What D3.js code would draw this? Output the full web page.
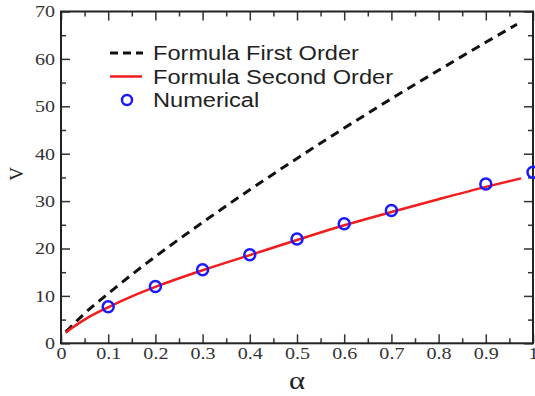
<html>
<head>
  <script src="https://cdn.jsdelivr.net/npm/d3@7"></script>
  <style>
    body { margin: 0; background: #fff; }
  </style>
</head>
<body>
  <script>
    // Data
    const alphaFirst = [0.01, 0.02, 0.05, 0.1, 0.15, 0.2, 0.3, 0.4, 0.5, 0.6, 0.7, 0.8, 0.9, 0.966];
    const vFirst = [2.4, 3.4, 6.3, 10.5, 14.5, 18.3, 25.5, 32.4, 39.0, 45.4, 51.6, 57.6, 63.5, 67.3];

    const alphaSecond = [0.01, 0.02, 0.05, 0.1, 0.15, 0.2, 0.3, 0.4, 0.5, 0.6, 0.7, 0.8, 0.9, 0.975];
    const vSecond = [2.2, 3.0, 5.0, 7.6, 9.9, 11.9, 15.4, 18.6, 21.8, 24.9, 27.7, 30.4, 33.0, 34.8];

    const alphaNum = [0.1, 0.2, 0.3, 0.4, 0.5, 0.6, 0.7, 0.9, 1.0];
    const vNum = [7.7, 12.0, 15.5, 18.7, 22.0, 25.2, 28.0, 33.6, 36.1];

    const xTicks = [0, 0.1, 0.2, 0.3, 0.4, 0.5, 0.6, 0.7, 0.8, 0.9, 1];
    const yTicks = [0, 10, 20, 30, 40, 50, 60, 70];
    const legendLabels = ["Formula First Order", "Formula Second Order", "Numerical"];

    const w = 535, h = 396;
    const padL = 61, padR = 533, padT = 11.5, padB = 343.3;
    const stretch = 1.18; // picture is a bit wide

    const x = d3.scaleLinear().domain([0, 1]).range([padL, padR]);
    const y = d3.scaleLinear().domain([0, 70]).range([padB, padT]);

    const svg = d3.select("body").append("svg")
      .attr("width", w).attr("height", h);

    const xMinor = d3.range(0, 1.0001, 0.05).filter(d => Math.abs(d * 10 - Math.round(d * 10)) > 1e-6);
    const yMinor = d3.range(5, 70, 10);

    function addAxis(gen, tr, labels) {
      const g = svg.append("g").attr("transform", tr).call(gen);
      g.select(".domain").remove();
      g.selectAll("line").attr("stroke", "#333").attr("stroke-width", 1.5);
      g.selectAll("text").attr("fill", "#333")
        .style("font-family", "'Liberation Serif', serif").style("font-size", "17px");
      if (!labels) g.selectAll("text").remove();
      return g;
    }

    // bottom + top
    addAxis(d3.axisBottom(x).tickValues(xTicks).tickSize(-9).tickPadding(4)
      .tickFormat(d => d === 0 ? "0" : d === 1 ? "1" : d3.format(".1f")(d)), `translate(0,${padB})`, true);
    addAxis(d3.axisBottom(x).tickValues(xMinor).tickSize(-5), `translate(0,${padB})`, false);
    addAxis(d3.axisTop(x).tickValues(xTicks).tickSize(-9), `translate(0,${padT})`, false);
    addAxis(d3.axisTop(x).tickValues(xMinor).tickSize(-5), `translate(0,${padT})`, false);
    // left + right
    addAxis(d3.axisLeft(y).tickValues(yTicks).tickSize(-9).tickPadding(6), `translate(${padL},0)`, true);
    addAxis(d3.axisLeft(y).tickValues(yMinor).tickSize(-5), `translate(${padL},0)`, false);
    addAxis(d3.axisRight(y).tickValues(yTicks).tickSize(-9), `translate(${padR},0)`, false);
    addAxis(d3.axisRight(y).tickValues(yMinor).tickSize(-5), `translate(${padR},0)`, false);

    // frame
    svg.append("rect")
      .attr("x", padL).attr("y", padT)
      .attr("width", padR - padL).attr("height", padB - padT)
      .attr("fill", "none").attr("stroke", "#222").attr("stroke-width", 2);

    const line = d3.line()
      .x(d => x(d[0])).y(d => y(d[1]))
      .curve(d3.curveMonotoneX);

    svg.append("path")
      .datum(d3.zip(alphaFirst, vFirst))
      .attr("d", line)
      .attr("fill", "none").attr("stroke", "#111")
      .attr("stroke-width", 3).attr("stroke-dasharray", "9,6");

    svg.append("path")
      .datum(d3.zip(alphaSecond, vSecond))
      .attr("d", line)
      .attr("fill", "none").attr("stroke", "#f21c1c")
      .attr("stroke-width", 2.5);

    svg.selectAll("circle.num")
      .data(d3.zip(alphaNum, vNum))
      .enter().append("circle")
      .attr("class", "num")
      .attr("cx", d => x(d[0])).attr("cy", d => y(d[1]))
      .attr("r", 5.5)
      .attr("fill", "none").attr("stroke", "#1a1aff").attr("stroke-width", 2.5);

    // legend
    const lg = svg.append("g");
    const rowY = [53, 76.5, 100];
    lg.append("line").attr("x1", 110).attr("x2", 143).attr("y1", rowY[0]).attr("y2", rowY[0])
      .attr("stroke", "#111").attr("stroke-width", 3).attr("stroke-dasharray", "8,5");
    lg.append("line").attr("x1", 110).attr("x2", 142).attr("y1", rowY[1]).attr("y2", rowY[1])
      .attr("stroke", "#f21c1c").attr("stroke-width", 2.5);
    lg.append("circle").attr("cx", 127).attr("cy", rowY[2]).attr("r", 5)
      .attr("fill", "none").attr("stroke", "#1a1aff").attr("stroke-width", 2.5);
    lg.selectAll("text.lab")
      .data(legendLabels)
      .enter().append("text")
      .attr("class", "lab")
      .attr("x", 153).attr("y", (d, i) => rowY[i] + 7)
      .style("font-family", "'Liberation Sans', Arial, sans-serif")
      .style("font-size", "20px").attr("fill", "#222")
      .text(d => d);

    // axis titles
    svg.append("text")
      .attr("x", x(0.5)).attr("y", 389)
      .attr("text-anchor", "middle")
      .style("font-family", "'Liberation Serif', serif").style("font-size", "26px")
      .attr("fill", "#222")
      .text("α");

    svg.append("text")
      .attr("transform", "translate(23,174) rotate(-90)")
      .attr("text-anchor", "middle")
      .style("font-family", "'Liberation Serif', serif").style("font-size", "19px")
      .attr("fill", "#222")
      .text("V");

    // widen horizontal texts like the picture
    svg.selectAll("text").filter(function () {
      return !(this.getAttribute("transform") || "").includes("rotate");
    }).each(function () {
      const len = this.getComputedTextLength();
      d3.select(this).attr("textLength", len * stretch).attr("lengthAdjust", "spacingAndGlyphs");
    });
  </script>
</body>
</html>
